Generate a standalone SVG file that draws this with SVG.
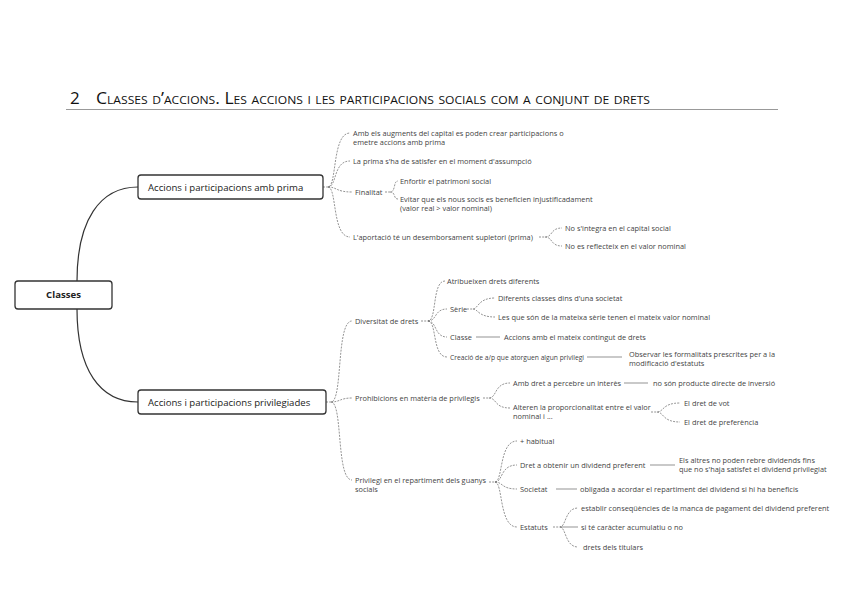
<svg xmlns="http://www.w3.org/2000/svg" width="848" height="599" viewBox="0 0 848 599">
<style>
.t{font-family:"Open Sans","Liberation Sans",sans-serif;font-size:7.4px;fill:#444}
.b{font-family:"Open Sans","Liberation Sans",sans-serif;font-size:9.6px;fill:#222}
.box{fill:#fff;stroke:#333;stroke-width:1.3}
.main{fill:none;stroke:#333;stroke-width:1.2}
.d{fill:none;stroke:#666;stroke-width:0.7;stroke-dasharray:2 1.2}
.s{fill:none;stroke:#666;stroke-width:0.7}
.ttl{font-family:"Open Sans","Liberation Sans",sans-serif;fill:#111}
</style>
<rect width="848" height="599" fill="#fff"/>
<g id="title">
<text class="ttl" x="70" y="104" font-size="17">2</text>
<text class="ttl" x="96" y="104" font-size="16" font-variant="small-caps" textLength="554" lengthAdjust="spacingAndGlyphs">Classes d’accions. Les accions i les participacions socials com a conjunt de drets</text>
<line x1="66" y1="109.5" x2="778" y2="109.5" stroke="#999" stroke-width="1"/>
</g>
<g id="connectors">
<path class="main" d="M77 281 C77 220 100 187 138 187"/>
<path class="main" d="M77 309 C77 370 100 402 138 402"/>
<path class="d" d="M323 187 L328 187 C337 187 332 133 350 133"/>
<path class="d" d="M328 187 C337 187 333 161 350 161"/>
<path class="d" d="M328 187 C337 187 336 192 352 192"/>
<path class="d" d="M328 187 C337 187 332 237 350 237"/>
<path class="d" d="M385 192 L390 192 C396 192 393 181 398 181"/>
<path class="d" d="M390 192 C396 192 393 199 398 199"/>
<path class="d" d="M539 237 L545 237 C553 237 550 228 562 228"/>
<path class="d" d="M545 237 C553 237 550 246 562 246"/>
<path class="d" d="M326 402 L331 402 C343 402 336 321 352 321"/>
<path class="d" d="M331 402 C340 402 340 398 352 398"/>
<path class="d" d="M331 402 C343 402 336 480 352 480"/>
<path class="d" d="M421 321 L428 321 C437 321 432 281 445 281"/>
<path class="d" d="M428 321 C437 321 434 309 447 309"/>
<path class="d" d="M428 321 C437 321 434 337 447 337"/>
<path class="d" d="M428 321 C437 321 432 357 447 357"/>
<path class="d" d="M467 309 L473 309 C478 309 478 298 495 298"/>
<path class="d" d="M473 309 C478 309 478 317 495 317"/>
<path class="s" d="M476 337 L500 337"/>
<path class="s" d="M587 357 L622 357"/>
<path class="d" d="M483 398 L489 398 C497 398 494 383 510 383"/>
<path class="d" d="M489 398 C497 398 494 408 510 408"/>
<path class="s" d="M624 383 L648 383"/>
<path class="d" d="M651 412 L657 412 C664 412 662 403 680 403"/>
<path class="d" d="M657 412 C664 412 662 422 680 422"/>
<path class="d" d="M489 482 L495 482 C503 482 499 441 517 441"/>
<path class="d" d="M495 482 C503 482 500 465 517 465"/>
<path class="d" d="M495 482 C503 482 501 489 517 489"/>
<path class="d" d="M495 482 C503 482 499 527 517 527"/>
<path class="s" d="M650 465 L675 465"/>
<path class="s" d="M556 489 L577 489"/>
<path class="d" d="M553 527 L560 527 C566 527 565 508 578 508"/>
<path class="s" d="M560 527 L578 527"/>
<path class="d" d="M560 527 C566 527 565 547 578 547"/>
</g>
<g id="n-classes"><rect class="box" x="15" y="281" width="97" height="28" rx="3"/><text class="b" x="63.5" y="298" font-size="8.5" font-weight="bold" text-anchor="middle">Classes</text></g>
<g id="n-prima"><rect class="box" x="138" y="175" width="185" height="24" rx="3"/><text class="b" x="148" y="190.5">Accions i participacions amb prima</text></g>
<g id="n-priv"><rect class="box" x="138" y="390" width="188" height="24" rx="3"/><text class="b" x="148" y="405.5">Accions i participacions privilegiades</text></g>
<g id="n-augments"><text class="t" x="353" y="135.5">Amb els augments del capital es poden crear participacions o</text><text class="t" x="353" y="144.5">emetre accions amb prima</text></g>
<g id="n-satisfer"><text class="t" x="353" y="163.5">La prima s'ha de satisfer en el moment d'assumpció</text></g>
<g id="n-finalitat"><text class="t" x="355" y="194.5">Finalitat</text></g>
<g id="n-enfortir"><text class="t" x="400" y="183.5">Enfortir el patrimoni social</text></g>
<g id="n-evitar"><text class="t" x="400" y="201.5">Evitar que els nous socis es beneficien injustificadament</text><text class="t" x="400" y="210.5">(valor real &gt; valor nominal)</text></g>
<g id="n-aportacio"><text class="t" x="353" y="239.5">L'aportació té un desemborsament supletori (prima)</text></g>
<g id="n-integra"><text class="t" x="565" y="230.5">No s'integra en el capital social</text></g>
<g id="n-reflecteix"><text class="t" x="565" y="248.5">No es reflecteix en el valor nominal</text></g>
<g id="n-diversitat"><text class="t" x="355" y="323.5">Diversitat de drets</text></g>
<g id="n-atribueixen"><text class="t" x="447" y="283.5">Atribueixen drets diferents</text></g>
<g id="n-serie"><text class="t" x="450" y="311.5">Sèrie</text></g>
<g id="n-diferents"><text class="t" x="498" y="300.5">Diferents classes dins d'una societat</text></g>
<g id="n-mateixa"><text class="t" x="498" y="319.5">Les que són de la mateixa sèrie tenen el mateix valor nominal</text></g>
<g id="n-classe"><text class="t" x="450" y="339.5">Classe</text></g>
<g id="n-contingut"><text class="t" x="504" y="339.5">Accions amb el mateix contingut de drets</text></g>
<g id="n-creacio"><text class="t" x="450" y="359.5" textLength="134" lengthAdjust="spacingAndGlyphs">Creació de a/p que atorguen algun privilegi</text></g>
<g id="n-observar"><text class="t" x="629" y="356.5">Observar les formalitats prescrites per a la</text><text class="t" x="629" y="365.5">modificació d'estatuts</text></g>
<g id="n-prohibicions"><text class="t" x="355" y="400.5">Prohibicions en matèria de privilegis</text></g>
<g id="n-interes"><text class="t" x="513" y="385.5">Amb dret a percebre un interès</text></g>
<g id="n-producte"><text class="t" x="653" y="385.5">no són producte directe de inversió</text></g>
<g id="n-alteren"><text class="t" x="513" y="409.5">Alteren la proporcionalitat entre el valor</text><text class="t" x="513" y="418.5">nominal i ...</text></g>
<g id="n-vot"><text class="t" x="684" y="405.5">El dret de vot</text></g>
<g id="n-preferencia"><text class="t" x="684" y="424.5">El dret de preferència</text></g>
<g id="n-privilegi"><text class="t" x="355" y="482.5">Privilegi en el repartiment dels guanys</text><text class="t" x="355" y="491.5">socials</text></g>
<g id="n-habitual"><text class="t" x="520" y="443.5">+ habitual</text></g>
<g id="n-dividend"><text class="t" x="520" y="467.5">Dret a obtenir un dividend preferent</text></g>
<g id="n-altres"><text class="t" x="679" y="462.5">Els altres no poden rebre dividends fins</text><text class="t" x="679" y="471.5">que no s'haja satisfet el dividend privilegiat</text></g>
<g id="n-societat"><text class="t" x="520" y="491.5">Societat</text></g>
<g id="n-obligada"><text class="t" x="580" y="491.5">obligada a acordar el repartiment del dividend si hi ha beneficis</text></g>
<g id="n-estatuts"><text class="t" x="520" y="529.5">Estatuts</text></g>
<g id="n-establir"><text class="t" x="581" y="510.5">establir conseqüències de la manca de pagament del dividend preferent</text></g>
<g id="n-acumulatiu"><text class="t" x="581" y="529.5">si té caràcter acumulatiu o no</text></g>
<g id="n-titulars"><text class="t" x="583" y="549.5">drets dels titulars</text></g>
</svg>
